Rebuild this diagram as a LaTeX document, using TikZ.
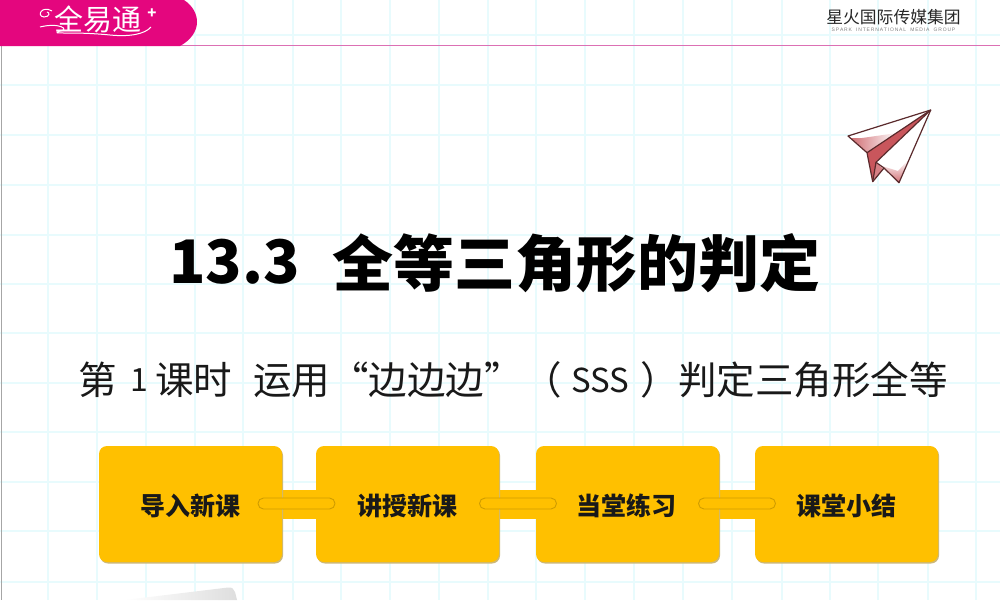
\documentclass[tikz,border=0pt]{standalone}
\usepackage{fontspec}
\setmainfont{Noto Sans CJK SC}
\newfontfamily\subfont{Liberation Sans}
\usetikzlibrary{shadows}
\definecolor{gridc}{HTML}{E8FBFD}
\definecolor{magc}{HTML}{E4067E}
\definecolor{rulec}{HTML}{DC70B4}
\definecolor{yelc}{HTML}{FFC000}
\definecolor{capc}{HTML}{CF9C00}
\definecolor{shadowc}{HTML}{CDB878}
\definecolor{planeline}{HTML}{5A2A2C}
\definecolor{planered}{HTML}{C9565C}
\tikzset{
  x=1pt,y=-1pt,
  gridline/.style={gridc,line width=1.4pt},
  stage/.style={fill=yelc,rounded corners=8pt,minimum width=183pt,minimum height=116pt,inner sep=0pt,
    general shadow={shadow xshift=1pt,shadow yshift=-1.5pt,fill=shadowc}},
  stagetext/.style={font=\bfseries\fontsize{25}{28}\selectfont,text=black!90},
  band/.style={yelc,line width=29pt},
  capsule/.style={fill=yelc,draw=capc,line width=0.9pt,rounded corners=5.5pt,minimum width=77pt,minimum height=11pt,inner sep=0pt},
  plane/.style={draw=planeline,line width=1.2pt,line join=round},
  subtext/.style={anchor=west,inner sep=0pt,font=\fontsize{38.5}{42}\selectfont,text=black!90},
  sublatin/.style={anchor=west,inner sep=0pt,font=\fontsize{32}{40}\selectfont,text=black!90},
}
\begin{document}
\begin{tikzpicture}
\useasboundingbox (0,0) rectangle (1000,600);
\fill[white] (0,0) rectangle (1000,600);
% grid
\foreach \gx in {48,97,146,195,243,293,341,390,439,488,536,585,634,683,732,782,830,878,928,976}
  \draw[gridline] (\gx,0) -- (\gx,600);
\foreach \gy in {35,85,135,185,235,284,333,383,432,482,531,582}
  \draw[gridline] (0,\gy) -- (1000,\gy);
% header
\fill[black!35] (0.6,46) rectangle (1.4,600);
\fill[rulec] (170,45) rectangle (1000,46.2);
\fill[magc] (0,0) -- (184,0) .. controls (193,6) and (197,14) .. (197,22) .. controls (197,31) and (191,40) .. (180,46) -- (0,46) -- cycle;
\node[text=white,font=\fontsize{29}{32}\selectfont,inner sep=0pt] (logo) at (98,19) {全易通};
\node[text=white,font=\bfseries\fontsize{15}{16}\selectfont,inner sep=0pt] (plus) at (152,14) {+};
\draw[white,line width=1pt] (40,27) .. controls (60,22) and (70,30) .. (60,31) .. controls (48,35) and (70,31) .. (110,35) .. controls (130,37) and (145,34) .. (151,27);
\draw[white,line width=1pt] (52,11) .. controls (42,5) and (36,16) .. (44,17) .. controls (50,17) and (50,12) .. (47,12);
\node[text=black!85,font=\fontsize{16.8}{18}\selectfont,inner sep=0pt] (brand) at (893.5,17) {星火国际传媒集团};
\node[text=black!50,font=\subfont\fontsize{5}{6}\selectfont,inner sep=0pt] (brandsub) at (893.5,29.5) {S\,P\,A\,R\,K\ \ \ I\,N\,T\,E\,R\,N\,A\,T\,I\,O\,N\,A\,L\ \ \ M\,E\,D\,I\,A\ \ \ G\,R\,O\,U\,P};
% plane
\fill[white] (848,136) -- (930.7,110) -- (867,152.7) -- cycle;
\shade[left color=planered!85,right color=white] (851,138) -- (867,152.7) -- (897,133) -- (862,138) -- cycle;
\fill[planered] (867,152.7) -- (930.7,110) -- (876,162.3) -- (884,168) -- (872.7,181.7) -- cycle;
\fill[planered!75] (876,162.3) -- (884,168) -- (872.7,181.7) -- cycle;
\fill[white] (930.7,110) -- (876,162.3) -- (899,182.7) -- cycle;
\shade[bottom color=planered!85,top color=white] (882,166) -- (899,182.7) -- (908,160) -- (898,171) -- cycle;
\draw[plane] (848,136) -- (930.7,110) -- (899,182.7) -- (884,168) -- (872.7,181.7) -- (867,152.7) -- cycle;
\draw[plane] (867,152.7) -- (930.7,110) -- (876,162.3) -- (884,168);
\draw[plane] (876,162.3) -- (872.7,181.7);
% titles
\node[anchor=west,inner sep=0pt,font=\bfseries\fontsize{60}{70}\selectfont,text=black] (num) at (169,262) {13.3};
\node[anchor=west,inner sep=0pt,font=\bfseries\fontsize{61}{70}\selectfont,text=black] (title) at (332,263) {全等三角形的判定};
\node[subtext] (s1) at (78,380) {第};
\node[sublatin] (s2) at (130,380) {1};
\node[subtext] (s3) at (155,380) {课时};
\node[subtext] (s4) at (253,380) {运用“边边边”};
\node[subtext] (s5) at (523,380) {（};
\node[sublatin,font=\fontsize{33}{40}\selectfont] (s6) at (571,380) {SSS};
\node[subtext] (s7) at (640,380) {）};
\node[subtext] (s8) at (678,380) {判定三角形全等};
% stages
\coordinate (ca) at (190.5,504);
\coordinate (cb) at (407.5,504);
\coordinate (cc) at (627.5,504);
\coordinate (cd) at (846.5,504);
\draw[band] (ca) -- (cb);
\draw[band] (cb) -- (cc);
\draw[band] (cc) -- (cd);
\node[stage] (a) at (ca) {};
\node[stage] (b) at (cb) {};
\node[stage] (c) at (cc) {};
\node[stage] (d) at (cd) {};
\node[capsule] (l1) at (296.5,503.5) {};
\node[capsule] (l2) at (518,503.5) {};
\node[capsule] (l3) at (737,503.5) {};
\node[stagetext] at (190,506) {导入新课};
\node[stagetext] at (407.5,506) {讲授新课};
\node[stagetext] at (626,506) {当堂练习};
\node[stagetext] at (846.5,506) {课堂小结};
% corner scrap
\shade[left color=white,right color=black!13] (125,600) -- (228,587.5) .. controls (232,587) and (234,589) .. (235,592) -- (237,600) -- cycle;
\end{tikzpicture}
\end{document}
